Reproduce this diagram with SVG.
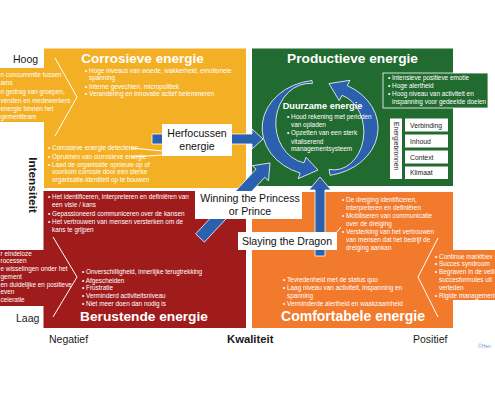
<svg xmlns="http://www.w3.org/2000/svg" width="495" height="400" viewBox="0 0 495 400">
<style>
text{font-family:"Liberation Sans",Arial,sans-serif}
.b{font-size:6.4px;fill:#fff}
.t{font-size:13.7px;font-weight:bold;fill:#fff;text-anchor:middle}
.ax{font-size:10.5px;fill:#1a1a1a}
.lbl{font-size:10.6px;fill:#111;text-anchor:middle}
.wl{fill:none;stroke:#fff;stroke-width:1}
.blue{fill:#2B60AE;stroke:#fff;stroke-width:0.8}
.eb{font-size:6.8px;fill:#222}
.yel{fill:#F4B024}
.red{fill:#A01B1B}
.grn{fill:#226B30}
.org{fill:#F27A2C}
</style>
<rect width="495" height="400" fill="#fff"/>

<g id="corrosieve">
<rect class="yel" x="44" y="48.5" width="202" height="139.5"/>
<polygon class="yel" points="-5,68 55,68 55,58 77,97 55,136 55,122 -5,122"/>
<polyline class="wl" points="55,58 77,97 55,136"/>
<text class="t" x="142.5" y="63" style="font-size:13.5px">Corrosieve energie</text>
<text class="b" x="85" y="73">• Hoge niveaus van woede, wakkerheid, emotionele</text>
<text class="b" x="89" y="79.5">spanning</text>
<text class="b" x="85" y="88.5">• Interne gevechten, micropolitiek</text>
<text class="b" x="85" y="96">• Verandering en innovatie actief belemmeren</text>
<text class="b" x="0.5" y="77">n concurrentie tussen</text>
<text class="b" x="0.5" y="85.3">ams</text>
<text class="b" x="0.5" y="94.3">n gedrag van groepen,</text>
<text class="b" x="0.5" y="103">venden en medewerkers</text>
<text class="b" x="0.5" y="111">energie binnen het</text>
<text class="b" x="0.5" y="118.7">gementteam</text>
<text class="b" x="48" y="150">• Corrosieve energie detecteren</text>
<text class="b" x="48" y="158.5">• Opruimen van corrosieve energie</text>
<text class="b" x="48" y="166.5">• Laad de organisatie opnieuw op of</text>
<text class="b" x="52" y="174">voorkom corrosie door een sterke</text>
<text class="b" x="52" y="181.5">organisatie-identiteit op te bouwen</text>
</g>

<g id="productieve">
<rect class="grn" x="252" y="48.5" width="201" height="137.5"/>
<text class="t" x="352.5" y="63">Productieve energie</text>
<rect class="grn" x="383" y="73" width="105" height="35" stroke="#fff" stroke-width="0.8"/>
<text class="b" x="388" y="80">• Intensieve positieve emotie</text>
<text class="b" x="388" y="88">• Hoge alertheid</text>
<text class="b" x="388" y="95.5">• Hoog niveau van activiteit en</text>
<text class="b" x="392" y="104">inspanning voor gedeelde doelen</text>
</g>

<g id="berustende">
<rect class="red" x="43.5" y="191" width="202.5" height="137"/>
<polygon class="red" points="-5,250 53,250 53,237 77,277 53,317 53,306 -5,306"/>
<polyline class="wl" points="53,237 77,277 53,317"/>
<text class="t" x="144" y="321">Berustende energie</text>
<text class="b" x="48" y="199">• Het identificeren, interpreteren en definiëren van</text>
<text class="b" x="52" y="207">een visie / kans</text>
<text class="b" x="48" y="215.5">• Gepassioneerd communiceren over de kansen</text>
<text class="b" x="48" y="224">• Het vertrouwen van mensen versterken om de</text>
<text class="b" x="52" y="231.5">kans te grijpen</text>
<text class="b" x="82" y="274.3">• Onverschilligheid, innerlijke terugtrekking</text>
<text class="b" x="82" y="282.5">• Afgescheiden</text>
<text class="b" x="82" y="290.3">• Frustratie</text>
<text class="b" x="82" y="298">• Verminderd activiteitsniveau</text>
<text class="b" x="82" y="306.2">• Niet meer doen dan nodig is</text>
<text class="b" x="0.5" y="255.5">r eindeloze</text>
<text class="b" x="0.5" y="263.2">rocessen</text>
<text class="b" x="0.5" y="271">e wisselingen onder het</text>
<text class="b" x="0.5" y="278.8">gement</text>
<text class="b" x="0.5" y="286.6">en duidelijke en positieve</text>
<text class="b" x="0.5" y="294.4">even</text>
<text class="b" x="0.5" y="302.2">celeratie</text>
</g>

<g id="comfortabele">
<rect class="org" x="252" y="192" width="201" height="136"/>
<polygon class="org" points="500,250 438,250 438,238 418,277 438,317 438,300 500,300"/>
<polyline class="wl" points="438,238 418,277 438,317"/>
<text class="t" x="353" y="321" style="font-size:14px">Comfortabele energie</text>
<text class="b" x="342" y="202">• De dreiging identificeren,</text>
<text class="b" x="346" y="210">interpreteren en definiëren</text>
<text class="b" x="342" y="218">• Mobiliseren van communicatie</text>
<text class="b" x="346" y="225.5">over de dreiging</text>
<text class="b" x="342" y="234">• Versterking van het vertrouwen</text>
<text class="b" x="346" y="242">van mensen dat het bedrijf de</text>
<text class="b" x="346" y="250">dreiging aankan</text>
<text class="b" x="283" y="282">• Tevredenheid met de status quo</text>
<text class="b" x="283" y="290">• Laag niveau van activiteit, inspanning en</text>
<text class="b" x="287" y="298">spanning</text>
<text class="b" x="283" y="306">• Verminderde alertheid en waakzaamheid</text>
<text class="b" x="435" y="258.7">• Continue marktbev</text>
<text class="b" x="435" y="266.3">• Succes syndroom</text>
<text class="b" x="435" y="274.3">• Begraven in de veili</text>
<text class="b" x="439" y="282">succesformules uit</text>
<text class="b" x="439" y="289.7">verleden</text>
<text class="b" x="435" y="297.7">• Rigide management</text>
</g>

<g id="duurzame">
<path class="blue" d="M312,80.5 A58,48 0 0 0 300.2,173.1 L298.1,178.7 L318,170 L306,157.2 L304,162.8 A34,40 0 0 1 312.4,83.5 Z"/>
<path class="blue" d="M330.1,175.3 A58,48 0 0 0 347.2,85.6 L350,80.3 L329,83.6 L339.2,100.6 L342,95.3 A30,38 0 0 1 329.1,169.4 Z"/>
<text x="322.5" y="109" style="font-size:9.2px;font-weight:bold;fill:#fff;text-anchor:middle">Duurzame energie</text>
<text class="b" x="287" y="119.3">• Houd rekening met perioden</text>
<text class="b" x="291" y="127">van opladen</text>
<text class="b" x="287" y="135.3">• Opzetten van een sterk</text>
<text class="b" x="291" y="143.7">vitaliserend</text>
<text class="b" x="291" y="151.3">managementsysteem</text>
</g>

<g id="energiebronnen">
<rect x="390" y="118.5" width="12" height="60.5" fill="#fff"/>
<text class="eb" transform="translate(393.8,122) rotate(90)">Energiebronnen</text>
<rect x="405" y="118.5" width="43" height="13" fill="#fff"/>
<rect x="405" y="134.5" width="43" height="13" fill="#fff"/>
<rect x="405" y="150.5" width="43" height="13" fill="#fff"/>
<rect x="405" y="166.5" width="43" height="12.5" fill="#fff"/>
<text class="eb" x="410" y="127.5">Verbinding</text>
<text class="eb" x="410" y="143.5">Inhoud</text>
<text class="eb" x="410" y="159.8">Context</text>
<text class="eb" x="410" y="175">Klimaat</text>
</g>

<g id="connectors">
<polygon class="blue" points="152,134 252,134 252,129 263,139 252,149 252,144 152,144"/>
<polygon class="blue" points="195.6,233.9 256.1,169.1 252.4,165.7 270,163 268.5,180.7 264.8,177.3 204.4,242.1"/>
<polygon class="blue" points="315,256 315,190 309,190 320,177 331,190 325,190 325,256"/>
</g>

<g id="herfocussen">
<line class="wl" x1="131" y1="148" x2="163" y2="151" stroke-width="0.8"/>
<line class="wl" x1="131" y1="157" x2="163" y2="155" stroke-width="0.8"/>
<rect x="162" y="124" width="70" height="32" fill="#fff"/>
<text class="lbl" x="197" y="137">Herfocussen</text>
<text class="lbl" x="197" y="149.5">energie</text>
</g>

<g id="winning">
<rect x="195" y="191" width="107" height="28" fill="#fff"/>
<text class="lbl" x="250" y="201.5">Winning the Princess</text>
<text class="lbl" x="250" y="214.5">or Prince</text>
</g>

<g id="slaying">
<line class="wl" x1="336" y1="233" x2="341" y2="227" stroke-width="0.8"/>
<rect x="238" y="232" width="99" height="18" fill="#fff"/>
<text class="lbl" x="287" y="244.5">Slaying the Dragon</text>
</g>

<g id="axes">
<text class="ax" x="13" y="63">Hoog</text>
<text class="ax" x="16" y="321.5">Laag</text>
<text x="0" y="0" transform="translate(28.5,185) rotate(90)" style="font-size:11.8px;font-weight:bold;fill:#1a1a1a;text-anchor:middle">Intensiteit</text>
<text class="ax" x="49" y="343">Negatief</text>
<text x="227" y="343" style="font-size:11.3px;font-weight:bold;fill:#1a1a1a">Kwaliteit</text>
<text class="ax" x="413" y="343">Positief</text>
<text x="478" y="348" style="font-size:5px;fill:#6A9AD4">©Hen</text>
</g>
</svg>
